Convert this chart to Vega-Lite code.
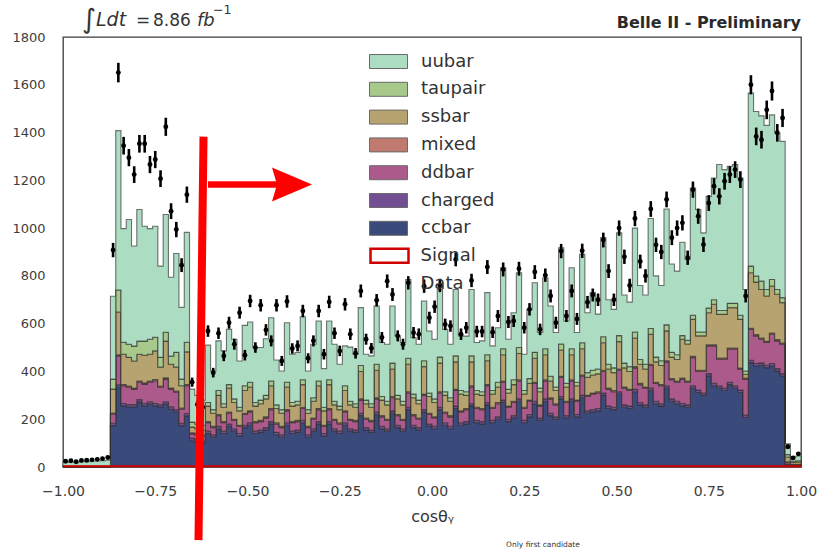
{
  "$schema": "https://vega.github.io/schema/vega-lite/v6.json",
  "width": 738,
  "height": 430,
  "autosize": {"type": "none"},
  "padding": {"left": 63, "top": 37, "right": 20, "bottom": 87},
  "background": "white",
  "config": {
    "font": "DejaVu Sans",
    "view": {"stroke": "#3a3a3a", "strokeWidth": 1.3},
    "axis": {"grid": false, "ticks": false, "domain": false, "labelColor": "#3d3d3d", "labelFont": "DejaVu Sans", "labelFlush": false, "labelOverlap": false}
  },
  "datasets": {
    "hist": [
      {"x":-1,"ccbar":0,"charged":0,"ddbar":0,"mixed":0,"ssbar":2,"taupair":2,"uubar":16,"signal":3},
      {"x":-0.9857,"ccbar":0,"charged":0,"ddbar":0,"mixed":0,"ssbar":2,"taupair":2,"uubar":18,"signal":3},
      {"x":-0.9714,"ccbar":0,"charged":0,"ddbar":0,"mixed":0,"ssbar":2,"taupair":2,"uubar":15,"signal":3},
      {"x":-0.9571,"ccbar":0,"charged":0,"ddbar":0,"mixed":0,"ssbar":2,"taupair":2,"uubar":19,"signal":3},
      {"x":-0.9429,"ccbar":0,"charged":0,"ddbar":0,"mixed":0,"ssbar":2,"taupair":2,"uubar":18,"signal":3},
      {"x":-0.9286,"ccbar":0,"charged":0,"ddbar":0,"mixed":0,"ssbar":2,"taupair":2,"uubar":20,"signal":3},
      {"x":-0.9143,"ccbar":0,"charged":0,"ddbar":0,"mixed":0,"ssbar":2,"taupair":2,"uubar":21,"signal":3},
      {"x":-0.9,"ccbar":0,"charged":0,"ddbar":0,"mixed":0,"ssbar":2,"taupair":2,"uubar":22,"signal":3},
      {"x":-0.8857,"ccbar":0,"charged":0,"ddbar":0,"mixed":0,"ssbar":2,"taupair":2,"uubar":24,"signal":3},
      {"x":-0.8714,"ccbar":173,"charged":10,"ddbar":38,"mixed":5,"ssbar":100,"taupair":42,"uubar":347,"signal":3},
      {"x":-0.8571,"ccbar":334,"charged":10,"ddbar":121,"mixed":5,"ssbar":179,"taupair":92,"uubar":667,"signal":3},
      {"x":-0.8429,"ccbar":256,"charged":10,"ddbar":74,"mixed":5,"ssbar":127,"taupair":50,"uubar":476,"signal":3},
      {"x":-0.8286,"ccbar":251,"charged":10,"ddbar":73,"mixed":5,"ssbar":120,"taupair":55,"uubar":522,"signal":3},
      {"x":-0.8143,"ccbar":251,"charged":10,"ddbar":65,"mixed":5,"ssbar":113,"taupair":62,"uubar":419,"signal":3},
      {"x":-0.8,"ccbar":272,"charged":10,"ddbar":73,"mixed":5,"ssbar":112,"taupair":55,"uubar":551,"signal":3},
      {"x":-0.7857,"ccbar":256,"charged":10,"ddbar":81,"mixed":5,"ssbar":116,"taupair":59,"uubar":481,"signal":3},
      {"x":-0.7714,"ccbar":263,"charged":10,"ddbar":82,"mixed":5,"ssbar":112,"taupair":63,"uubar":463,"signal":3},
      {"x":-0.7571,"ccbar":256,"charged":10,"ddbar":95,"mixed":5,"ssbar":120,"taupair":57,"uubar":465,"signal":3},
      {"x":-0.7429,"ccbar":251,"charged":10,"ddbar":73,"mixed":5,"ssbar":79,"taupair":41,"uubar":382,"signal":3},
      {"x":-0.7286,"ccbar":263,"charged":10,"ddbar":95,"mixed":5,"ssbar":154,"taupair":37,"uubar":493,"signal":3},
      {"x":-0.7143,"ccbar":242,"charged":10,"ddbar":74,"mixed":5,"ssbar":99,"taupair":34,"uubar":330,"signal":3},
      {"x":-0.7,"ccbar":229,"charged":10,"ddbar":74,"mixed":5,"ssbar":100,"taupair":62,"uubar":414,"signal":3},
      {"x":-0.6857,"ccbar":173,"charged":10,"ddbar":59,"mixed":5,"ssbar":93,"taupair":28,"uubar":300,"signal":3},
      {"x":-0.6714,"ccbar":214,"charged":10,"ddbar":116,"mixed":5,"ssbar":137,"taupair":40,"uubar":460,"signal":3},
      {"x":-0.6571,"ccbar":110,"charged":10,"ddbar":18,"mixed":5,"ssbar":24,"taupair":21,"uubar":138,"signal":3},
      {"x":-0.6429,"ccbar":105,"charged":10,"ddbar":20,"mixed":5,"ssbar":20,"taupair":20,"uubar":120,"signal":3},
      {"x":-0.6286,"ccbar":100,"charged":10,"ddbar":20,"mixed":5,"ssbar":20,"taupair":20,"uubar":105,"signal":3},
      {"x":-0.6143,"ccbar":140,"charged":10,"ddbar":35,"mixed":5,"ssbar":65,"taupair":15,"uubar":240,"signal":3},
      {"x":-0.6,"ccbar":125,"charged":10,"ddbar":30,"mixed":5,"ssbar":55,"taupair":15,"uubar":162,"signal":3},
      {"x":-0.5857,"ccbar":160,"charged":10,"ddbar":45,"mixed":5,"ssbar":80,"taupair":20,"uubar":208,"signal":3},
      {"x":-0.5714,"ccbar":140,"charged":10,"ddbar":35,"mixed":5,"ssbar":60,"taupair":15,"uubar":221,"signal":3},
      {"x":-0.5571,"ccbar":170,"charged":10,"ddbar":45,"mixed":5,"ssbar":100,"taupair":15,"uubar":231,"signal":3},
      {"x":-0.5429,"ccbar":150,"charged":10,"ddbar":35,"mixed":5,"ssbar":70,"taupair":15,"uubar":250,"signal":3},
      {"x":-0.5286,"ccbar":130,"charged":10,"ddbar":30,"mixed":5,"ssbar":60,"taupair":15,"uubar":194,"signal":3},
      {"x":-0.5143,"ccbar":165,"charged":10,"ddbar":45,"mixed":5,"ssbar":95,"taupair":20,"uubar":253,"signal":3},
      {"x":-0.5,"ccbar":175,"charged":10,"ddbar":45,"mixed":5,"ssbar":100,"taupair":20,"uubar":252,"signal":3},
      {"x":-0.4857,"ccbar":140,"charged":10,"ddbar":35,"mixed":5,"ssbar":65,"taupair":15,"uubar":230,"signal":3},
      {"x":-0.4714,"ccbar":145,"charged":10,"ddbar":35,"mixed":5,"ssbar":70,"taupair":15,"uubar":220,"signal":3},
      {"x":-0.4571,"ccbar":155,"charged":10,"ddbar":40,"mixed":5,"ssbar":75,"taupair":15,"uubar":237,"signal":3},
      {"x":-0.4429,"ccbar":180,"charged":10,"ddbar":50,"mixed":5,"ssbar":95,"taupair":20,"uubar":265,"signal":3},
      {"x":-0.4286,"ccbar":135,"charged":10,"ddbar":35,"mixed":5,"ssbar":60,"taupair":15,"uubar":188,"signal":3},
      {"x":-0.4143,"ccbar":125,"charged":10,"ddbar":30,"mixed":5,"ssbar":55,"taupair":15,"uubar":162,"signal":3},
      {"x":-0.4,"ccbar":175,"charged":10,"ddbar":50,"mixed":5,"ssbar":95,"taupair":20,"uubar":249,"signal":3},
      {"x":-0.3857,"ccbar":140,"charged":10,"ddbar":35,"mixed":5,"ssbar":65,"taupair":15,"uubar":202,"signal":3},
      {"x":-0.3714,"ccbar":145,"charged":10,"ddbar":35,"mixed":5,"ssbar":65,"taupair":15,"uubar":204,"signal":3},
      {"x":-0.3571,"ccbar":185,"charged":10,"ddbar":50,"mixed":5,"ssbar":95,"taupair":20,"uubar":264,"signal":3},
      {"x":-0.3429,"ccbar":125,"charged":10,"ddbar":30,"mixed":5,"ssbar":55,"taupair":15,"uubar":162,"signal":3},
      {"x":-0.3286,"ccbar":150,"charged":10,"ddbar":40,"mixed":5,"ssbar":70,"taupair":15,"uubar":224,"signal":3},
      {"x":-0.3143,"ccbar":180,"charged":10,"ddbar":50,"mixed":5,"ssbar":95,"taupair":20,"uubar":251,"signal":3},
      {"x":-0.3,"ccbar":130,"charged":10,"ddbar":30,"mixed":5,"ssbar":60,"taupair":15,"uubar":162,"signal":3},
      {"x":-0.2857,"ccbar":180,"charged":10,"ddbar":50,"mixed":5,"ssbar":100,"taupair":20,"uubar":246,"signal":3},
      {"x":-0.2714,"ccbar":150,"charged":10,"ddbar":35,"mixed":5,"ssbar":60,"taupair":15,"uubar":239,"signal":3},
      {"x":-0.2571,"ccbar":140,"charged":10,"ddbar":30,"mixed":5,"ssbar":55,"taupair":15,"uubar":175,"signal":3},
      {"x":-0.2429,"ccbar":175,"charged":10,"ddbar":45,"mixed":5,"ssbar":85,"taupair":20,"uubar":167,"signal":3},
      {"x":-0.2286,"ccbar":150,"charged":10,"ddbar":35,"mixed":5,"ssbar":60,"taupair":15,"uubar":227,"signal":3},
      {"x":-0.2143,"ccbar":145,"charged":10,"ddbar":35,"mixed":5,"ssbar":55,"taupair":15,"uubar":207,"signal":3},
      {"x":-0.2,"ccbar":215,"charged":10,"ddbar":55,"mixed":5,"ssbar":115,"taupair":25,"uubar":242,"signal":3},
      {"x":-0.1857,"ccbar":155,"charged":10,"ddbar":35,"mixed":5,"ssbar":60,"taupair":15,"uubar":192,"signal":3},
      {"x":-0.1714,"ccbar":145,"charged":10,"ddbar":35,"mixed":5,"ssbar":55,"taupair":15,"uubar":200,"signal":3},
      {"x":-0.1571,"ccbar":220,"charged":10,"ddbar":55,"mixed":5,"ssbar":115,"taupair":25,"uubar":244,"signal":3},
      {"x":-0.1429,"ccbar":160,"charged":10,"ddbar":40,"mixed":5,"ssbar":65,"taupair":15,"uubar":226,"signal":3},
      {"x":-0.1286,"ccbar":150,"charged":10,"ddbar":35,"mixed":5,"ssbar":60,"taupair":15,"uubar":239,"signal":3},
      {"x":-0.1143,"ccbar":225,"charged":10,"ddbar":55,"mixed":5,"ssbar":115,"taupair":25,"uubar":239,"signal":3},
      {"x":-0.1,"ccbar":165,"charged":10,"ddbar":40,"mixed":5,"ssbar":65,"taupair":15,"uubar":249,"signal":3},
      {"x":-0.0857,"ccbar":150,"charged":10,"ddbar":35,"mixed":5,"ssbar":60,"taupair":15,"uubar":246,"signal":3},
      {"x":-0.0714,"ccbar":240,"charged":10,"ddbar":60,"mixed":5,"ssbar":115,"taupair":25,"uubar":330,"signal":3},
      {"x":-0.0571,"ccbar":165,"charged":10,"ddbar":40,"mixed":5,"ssbar":70,"taupair":15,"uubar":237,"signal":3},
      {"x":-0.0429,"ccbar":155,"charged":10,"ddbar":35,"mixed":5,"ssbar":60,"taupair":15,"uubar":234,"signal":3},
      {"x":-0.0286,"ccbar":230,"charged":10,"ddbar":60,"mixed":5,"ssbar":115,"taupair":25,"uubar":250,"signal":3},
      {"x":-0.0143,"ccbar":170,"charged":10,"ddbar":40,"mixed":5,"ssbar":70,"taupair":15,"uubar":259,"signal":3},
      {"x":0,"ccbar":160,"charged":10,"ddbar":35,"mixed":5,"ssbar":60,"taupair":15,"uubar":250,"signal":3},
      {"x":0.0143,"ccbar":240,"charged":10,"ddbar":60,"mixed":5,"ssbar":120,"taupair":25,"uubar":283,"signal":3},
      {"x":0.0286,"ccbar":175,"charged":10,"ddbar":40,"mixed":5,"ssbar":70,"taupair":15,"uubar":261,"signal":3},
      {"x":0.0429,"ccbar":160,"charged":10,"ddbar":40,"mixed":5,"ssbar":60,"taupair":15,"uubar":224,"signal":3},
      {"x":0.0571,"ccbar":245,"charged":10,"ddbar":65,"mixed":5,"ssbar":115,"taupair":25,"uubar":278,"signal":3},
      {"x":0.0714,"ccbar":175,"charged":10,"ddbar":45,"mixed":5,"ssbar":70,"taupair":15,"uubar":229,"signal":3},
      {"x":0.0857,"ccbar":180,"charged":10,"ddbar":50,"mixed":5,"ssbar":55,"taupair":15,"uubar":233,"signal":3},
      {"x":0.1,"ccbar":255,"charged":10,"ddbar":70,"mixed":5,"ssbar":100,"taupair":25,"uubar":278,"signal":3},
      {"x":0.1143,"ccbar":185,"charged":10,"ddbar":50,"mixed":5,"ssbar":55,"taupair":15,"uubar":201,"signal":3},
      {"x":0.1286,"ccbar":180,"charged":10,"ddbar":50,"mixed":5,"ssbar":55,"taupair":15,"uubar":213,"signal":3},
      {"x":0.1429,"ccbar":260,"charged":10,"ddbar":70,"mixed":5,"ssbar":100,"taupair":25,"uubar":260,"signal":3},
      {"x":0.1571,"ccbar":185,"charged":10,"ddbar":50,"mixed":5,"ssbar":55,"taupair":15,"uubar":187,"signal":3},
      {"x":0.1714,"ccbar":200,"charged":10,"ddbar":55,"mixed":5,"ssbar":65,"taupair":20,"uubar":228,"signal":3},
      {"x":0.1857,"ccbar":270,"charged":10,"ddbar":75,"mixed":5,"ssbar":110,"taupair":25,"uubar":339,"signal":3},
      {"x":0.2,"ccbar":190,"charged":10,"ddbar":50,"mixed":5,"ssbar":55,"taupair":15,"uubar":210,"signal":3},
      {"x":0.2143,"ccbar":205,"charged":10,"ddbar":55,"mixed":5,"ssbar":70,"taupair":20,"uubar":281,"signal":3},
      {"x":0.2286,"ccbar":275,"charged":10,"ddbar":75,"mixed":5,"ssbar":110,"taupair":25,"uubar":313,"signal":3},
      {"x":0.2429,"ccbar":185,"charged":10,"ddbar":50,"mixed":5,"ssbar":55,"taupair":15,"uubar":152,"signal":3},
      {"x":0.2571,"ccbar":210,"charged":10,"ddbar":55,"mixed":5,"ssbar":70,"taupair":20,"uubar":290,"signal":3},
      {"x":0.2714,"ccbar":265,"charged":10,"ddbar":75,"mixed":5,"ssbar":100,"taupair":25,"uubar":291,"signal":3},
      {"x":0.2857,"ccbar":195,"charged":10,"ddbar":50,"mixed":5,"ssbar":55,"taupair":15,"uubar":233,"signal":3},
      {"x":0.3,"ccbar":275,"charged":10,"ddbar":75,"mixed":5,"ssbar":105,"taupair":25,"uubar":297,"signal":3},
      {"x":0.3143,"ccbar":215,"charged":10,"ddbar":60,"mixed":5,"ssbar":70,"taupair":20,"uubar":294,"signal":3},
      {"x":0.3286,"ccbar":200,"charged":10,"ddbar":50,"mixed":5,"ssbar":55,"taupair":15,"uubar":228,"signal":3},
      {"x":0.3429,"ccbar":285,"charged":10,"ddbar":80,"mixed":5,"ssbar":110,"taupair":25,"uubar":403,"signal":3},
      {"x":0.3571,"ccbar":205,"charged":10,"ddbar":55,"mixed":5,"ssbar":60,"taupair":15,"uubar":261,"signal":3},
      {"x":0.3714,"ccbar":275,"charged":10,"ddbar":75,"mixed":5,"ssbar":105,"taupair":25,"uubar":339,"signal":3},
      {"x":0.3857,"ccbar":210,"charged":10,"ddbar":55,"mixed":5,"ssbar":60,"taupair":15,"uubar":208,"signal":3},
      {"x":0.4,"ccbar":290,"charged":10,"ddbar":80,"mixed":5,"ssbar":110,"taupair":25,"uubar":370,"signal":3},
      {"x":0.4143,"ccbar":225,"charged":10,"ddbar":60,"mixed":5,"ssbar":75,"taupair":20,"uubar":251,"signal":3},
      {"x":0.4286,"ccbar":230,"charged":10,"ddbar":65,"mixed":5,"ssbar":75,"taupair":20,"uubar":325,"signal":3},
      {"x":0.4429,"ccbar":235,"charged":10,"ddbar":65,"mixed":5,"ssbar":75,"taupair":20,"uubar":230,"signal":3},
      {"x":0.4571,"ccbar":300,"charged":10,"ddbar":90,"mixed":5,"ssbar":115,"taupair":25,"uubar":415,"signal":3},
      {"x":0.4714,"ccbar":245,"charged":10,"ddbar":70,"mixed":5,"ssbar":80,"taupair":20,"uubar":270,"signal":3},
      {"x":0.4857,"ccbar":240,"charged":10,"ddbar":65,"mixed":5,"ssbar":75,"taupair":20,"uubar":245,"signal":3},
      {"x":0.5,"ccbar":305,"charged":10,"ddbar":90,"mixed":5,"ssbar":115,"taupair":25,"uubar":430,"signal":3},
      {"x":0.5143,"ccbar":250,"charged":10,"ddbar":70,"mixed":5,"ssbar":80,"taupair":20,"uubar":285,"signal":3},
      {"x":0.5286,"ccbar":245,"charged":10,"ddbar":65,"mixed":5,"ssbar":75,"taupair":20,"uubar":270,"signal":3},
      {"x":0.5429,"ccbar":315,"charged":10,"ddbar":90,"mixed":5,"ssbar":120,"taupair":25,"uubar":435,"signal":3},
      {"x":0.5571,"ccbar":260,"charged":10,"ddbar":75,"mixed":5,"ssbar":80,"taupair":20,"uubar":310,"signal":3},
      {"x":0.5714,"ccbar":250,"charged":10,"ddbar":70,"mixed":5,"ssbar":75,"taupair":20,"uubar":290,"signal":3},
      {"x":0.5857,"ccbar":320,"charged":10,"ddbar":95,"mixed":5,"ssbar":125,"taupair":25,"uubar":460,"signal":3},
      {"x":0.6,"ccbar":265,"charged":10,"ddbar":75,"mixed":5,"ssbar":85,"taupair":20,"uubar":340,"signal":3},
      {"x":0.6143,"ccbar":255,"charged":10,"ddbar":75,"mixed":5,"ssbar":80,"taupair":20,"uubar":315,"signal":3},
      {"x":0.6286,"ccbar":330,"charged":10,"ddbar":100,"mixed":5,"ssbar":125,"taupair":25,"uubar":485,"signal":3},
      {"x":0.6429,"ccbar":275,"charged":10,"ddbar":80,"mixed":5,"ssbar":90,"taupair":20,"uubar":370,"signal":3},
      {"x":0.6571,"ccbar":265,"charged":10,"ddbar":80,"mixed":5,"ssbar":90,"taupair":20,"uubar":350,"signal":3},
      {"x":0.6714,"ccbar":256,"charged":10,"ddbar":101,"mixed":5,"ssbar":163,"taupair":15,"uubar":391,"signal":3},
      {"x":0.6857,"ccbar":250,"charged":10,"ddbar":95,"mixed":5,"ssbar":155,"taupair":15,"uubar":339,"signal":3},
      {"x":0.7,"ccbar":330,"charged":10,"ddbar":118,"mixed":5,"ssbar":155,"taupair":17,"uubar":533,"signal":3},
      {"x":0.7143,"ccbar":312,"charged":10,"ddbar":78,"mixed":5,"ssbar":144,"taupair":16,"uubar":513,"signal":3},
      {"x":0.7286,"ccbar":300,"charged":10,"ddbar":90,"mixed":5,"ssbar":144,"taupair":16,"uubar":415,"signal":3},
      {"x":0.7429,"ccbar":381,"charged":10,"ddbar":116,"mixed":5,"ssbar":134,"taupair":19,"uubar":468,"signal":3},
      {"x":0.7571,"ccbar":340,"charged":10,"ddbar":157,"mixed":5,"ssbar":169,"taupair":19,"uubar":510,"signal":3},
      {"x":0.7714,"ccbar":330,"charged":10,"ddbar":111,"mixed":5,"ssbar":183,"taupair":16,"uubar":611,"signal":3},
      {"x":0.7857,"ccbar":320,"charged":10,"ddbar":121,"mixed":5,"ssbar":183,"taupair":16,"uubar":590,"signal":3},
      {"x":0.8,"ccbar":345,"charged":10,"ddbar":138,"mixed":5,"ssbar":169,"taupair":18,"uubar":574,"signal":3},
      {"x":0.8143,"ccbar":330,"charged":10,"ddbar":153,"mixed":5,"ssbar":169,"taupair":18,"uubar":581,"signal":3},
      {"x":0.8286,"ccbar":312,"charged":10,"ddbar":87,"mixed":5,"ssbar":204,"taupair":17,"uubar":575,"signal":3},
      {"x":0.8429,"ccbar":207,"charged":10,"ddbar":150,"mixed":5,"ssbar":16,"taupair":14,"uubar":341,"signal":3},
      {"x":0.8571,"ccbar":437,"charged":10,"ddbar":129,"mixed":5,"ssbar":232,"taupair":28,"uubar":724,"signal":3},
      {"x":0.8714,"ccbar":423,"charged":10,"ddbar":116,"mixed":5,"ssbar":220,"taupair":25,"uubar":689,"signal":3},
      {"x":0.8857,"ccbar":426,"charged":10,"ddbar":99,"mixed":5,"ssbar":203,"taupair":35,"uubar":692,"signal":3},
      {"x":0.9,"ccbar":416,"charged":10,"ddbar":95,"mixed":5,"ssbar":190,"taupair":27,"uubar":687,"signal":3},
      {"x":0.9143,"ccbar":423,"charged":10,"ddbar":123,"mixed":5,"ssbar":196,"taupair":28,"uubar":689,"signal":3},
      {"x":0.9286,"ccbar":402,"charged":10,"ddbar":116,"mixed":5,"ssbar":190,"taupair":20,"uubar":655,"signal":3},
      {"x":0.9429,"ccbar":381,"charged":10,"ddbar":123,"mixed":5,"ssbar":169,"taupair":21,"uubar":654,"signal":3},
      {"x":0.9571,"ccbar":10,"charged":2,"ddbar":8,"mixed":2,"ssbar":20,"taupair":10,"uubar":45,"signal":3},
      {"x":0.9714,"ccbar":5,"charged":1,"ddbar":4,"mixed":1,"ssbar":8,"taupair":5,"uubar":16,"signal":3},
      {"x":0.9857,"ccbar":5,"charged":1,"ddbar":4,"mixed":1,"ssbar":10,"taupair":5,"uubar":20,"signal":3},
      {"x":1,"ccbar":5,"charged":1,"ddbar":4,"mixed":1,"ssbar":10,"taupair":5,"uubar":20,"signal":3}
    ],
    "pts": [
      {"x":-0.9929,"n":24,"e":5},{"x":-0.9786,"n":26,"e":5},{"x":-0.9643,"n":22,"e":5},{"x":-0.95,"n":27,"e":5},
      {"x":-0.9357,"n":28,"e":5},{"x":-0.9214,"n":30,"e":5},{"x":-0.9071,"n":32,"e":6},{"x":-0.8929,"n":35,"e":6},
      {"x":-0.8786,"n":40,"e":6},{"x":-0.8643,"n":908,"e":30},{"x":-0.85,"n":1651,"e":41},{"x":-0.8357,"n":1345,"e":37},
      {"x":-0.8214,"n":1295,"e":36},{"x":-0.8071,"n":1224,"e":35},{"x":-0.7929,"n":1353,"e":37},{"x":-0.7786,"n":1353,"e":37},
      {"x":-0.7643,"n":1266,"e":36},{"x":-0.75,"n":1287,"e":36},{"x":-0.7357,"n":1207,"e":35},{"x":-0.7214,"n":1424,"e":38},
      {"x":-0.7071,"n":1071,"e":33},{"x":-0.6929,"n":994,"e":32},{"x":-0.6786,"n":845,"e":29},{"x":-0.6643,"n":1140,"e":34},
      {"x":-0.65,"n":355,"e":19},{"x":-0.6357,"n":262,"e":16},{"x":-0.6214,"n":250,"e":16},{"x":-0.6071,"n":569,"e":24},
      {"x":-0.5929,"n":395,"e":20},{"x":-0.5786,"n":560,"e":24},{"x":-0.5643,"n":465,"e":22},{"x":-0.55,"n":604,"e":25},
      {"x":-0.5357,"n":514,"e":23},{"x":-0.5214,"n":646,"e":25},{"x":-0.5071,"n":468,"e":22},{"x":-0.4929,"n":695,"e":26},
      {"x":-0.4786,"n":500,"e":22},{"x":-0.4643,"n":677,"e":26},{"x":-0.45,"n":574,"e":24},{"x":-0.4357,"n":528,"e":23},
      {"x":-0.4214,"n":677,"e":26},{"x":-0.4071,"n":444,"e":21},{"x":-0.3929,"n":693,"e":26},{"x":-0.3786,"n":496,"e":22},
      {"x":-0.3643,"n":507,"e":23},{"x":-0.35,"n":653,"e":26},{"x":-0.3357,"n":455,"e":21},{"x":-0.3214,"n":528,"e":23},
      {"x":-0.3071,"n":653,"e":26},{"x":-0.2929,"n":472,"e":22},{"x":-0.2786,"n":691,"e":26},{"x":-0.2643,"n":560,"e":24},
      {"x":-0.25,"n":486,"e":22},{"x":-0.2357,"n":681,"e":26},{"x":-0.2214,"n":556,"e":24},{"x":-0.2071,"n":476,"e":22},
      {"x":-0.1929,"n":737,"e":27},{"x":-0.1786,"n":535,"e":23},{"x":-0.1643,"n":497,"e":22},{"x":-0.15,"n":698,"e":26},
      {"x":-0.1357,"n":542,"e":23},{"x":-0.1214,"n":778,"e":28},{"x":-0.1071,"n":722,"e":27},{"x":-0.0929,"n":549,"e":23},
      {"x":-0.0786,"n":514,"e":23},{"x":-0.0643,"n":771,"e":28},{"x":-0.05,"n":562,"e":24},{"x":-0.0357,"n":556,"e":24},
      {"x":-0.0214,"n":757,"e":28},{"x":-0.0071,"n":625,"e":25},{"x":0.0071,"n":671,"e":26},{"x":0.0214,"n":760,"e":28},
      {"x":0.0357,"n":597,"e":24},{"x":0.05,"n":590,"e":24},{"x":0.0643,"n":869,"e":29},{"x":0.0786,"n":556,"e":24},
      {"x":0.0929,"n":583,"e":24},{"x":0.1071,"n":781,"e":28},{"x":0.1214,"n":567,"e":24},{"x":0.1357,"n":567,"e":24},
      {"x":0.15,"n":837,"e":29},{"x":0.1643,"n":564,"e":24},{"x":0.1786,"n":632,"e":25},{"x":0.1929,"n":827,"e":29},
      {"x":0.2071,"n":607,"e":25},{"x":0.2214,"n":611,"e":25},{"x":0.2357,"n":830,"e":29},{"x":0.25,"n":583,"e":24},
      {"x":0.2643,"n":660,"e":26},{"x":0.2786,"n":816,"e":29},{"x":0.2929,"n":576,"e":24},{"x":0.3071,"n":803,"e":28},
      {"x":0.3214,"n":716,"e":27},{"x":0.3357,"n":604,"e":25},{"x":0.35,"n":904,"e":30},{"x":0.3643,"n":632,"e":25},
      {"x":0.3786,"n":737,"e":27},{"x":0.3929,"n":620,"e":25},{"x":0.4071,"n":905,"e":30},{"x":0.4214,"n":690,"e":26},
      {"x":0.4357,"n":720,"e":27},{"x":0.45,"n":700,"e":26},{"x":0.4643,"n":950,"e":31},{"x":0.4786,"n":820,"e":29},
      {"x":0.4929,"n":700,"e":26},{"x":0.5071,"n":1000,"e":32},{"x":0.5214,"n":880,"e":30},{"x":0.5357,"n":760,"e":28},
      {"x":0.55,"n":1040,"e":32},{"x":0.5643,"n":860,"e":29},{"x":0.5786,"n":800,"e":28},{"x":0.5929,"n":1080,"e":33},
      {"x":0.6071,"n":930,"e":30},{"x":0.6214,"n":900,"e":30},{"x":0.6357,"n":1120,"e":33},{"x":0.65,"n":960,"e":31},
      {"x":0.6643,"n":1000,"e":32},{"x":0.6786,"n":1022,"e":32},{"x":0.6929,"n":876,"e":30},{"x":0.7071,"n":1161,"e":34},
      {"x":0.7214,"n":1050,"e":32},{"x":0.7357,"n":931,"e":31},{"x":0.75,"n":1105,"e":33},{"x":0.7643,"n":1175,"e":34},
      {"x":0.7786,"n":1133,"e":34},{"x":0.7929,"n":1196,"e":35},{"x":0.8071,"n":1224,"e":35},{"x":0.8214,"n":1245,"e":35},
      {"x":0.8357,"n":1203,"e":35},{"x":0.85,"n":716,"e":27},{"x":0.8643,"n":1600,"e":40},{"x":0.8786,"n":1384,"e":37},
      {"x":0.8929,"n":1370,"e":37},{"x":0.9071,"n":1495,"e":39},{"x":0.9214,"n":1574,"e":40},{"x":0.9357,"n":1399,"e":37},
      {"x":0.95,"n":1461,"e":38},{"x":0.9643,"n":85,"e":9},{"x":0.9786,"n":38,"e":6},{"x":0.9929,"n":55,"e":7}
    ]
  },
  "layer": [
    {
      "data": {"name": "hist"},
      "transform": [
        {"fold": ["ccbar", "charged", "ddbar", "mixed", "ssbar", "taupair", "uubar"], "as": ["sample", "n"]},
        {"stack": "n", "groupby": ["x"], "sort": [{"field": "sample", "order": "ascending"}], "as": ["lo", "hi"]}
      ],
      "mark": {"type": "area", "interpolate": "step-after", "stroke": "#2e2e2e", "strokeWidth": 1.1, "strokeOpacity": 0.65, "fillOpacity": 1},
      "encoding": {
        "x": {"field": "x", "type": "quantitative", "scale": {"domain": [-1, 1], "nice": false, "zero": false},
          "axis": {"values": [-1, -0.75, -0.5, -0.25, 0, 0.25, 0.5, 0.75, 1], "format": ".2f", "labelFontSize": 14, "labelPadding": 17,
            "title": "cosθᵧ", "titleFontSize": 16, "titleFontWeight": "normal", "titleColor": "#333333", "titlePadding": 10}},
        "y": {"field": "hi", "type": "quantitative", "scale": {"domain": [0, 1800], "nice": false},
          "axis": {"values": [0, 200, 400, 600, 800, 1000, 1200, 1400, 1600, 1800], "format": "d", "labelFontSize": 13, "labelPadding": 18, "title": null}},
        "y2": {"field": "lo"},
        "fill": {"field": "sample", "type": "nominal",
          "scale": {"domain": ["uubar", "taupair", "ssbar", "mixed", "ddbar", "charged", "ccbar"],
            "range": ["#acdcc1", "#a8c98c", "#b7a36f", "#c07a70", "#ab5a8b", "#714f92", "#3a4a7a"]},
          "legend": {"orient": "none", "legendX": 315, "legendY": 14, "title": null,
            "symbolType": "M-1.9,-0.7H1.9V0.7H-1.9Z", "symbolSize": 400, "symbolStrokeWidth": 1, "symbolStrokeColor": "#6a6a6a",
            "labelFontSize": 18, "labelColor": "#333333", "labelFont": "DejaVu Sans", "labelOffset": 22, "rowPadding": 7.8}
        }
      }
    },
    {
      "data": {"name": "hist"},
      "mark": {"type": "line", "interpolate": "step-after", "strokeWidth": 2},
      "encoding": {
        "x": {"field": "x", "type": "quantitative"},
        "y": {"field": "signal", "type": "quantitative"},
        "stroke": {"datum": "Signal", "type": "nominal",
          "scale": {"domain": ["Signal", "Data"], "range": ["#d00000", "rgba(0,0,0,0)"]},
          "legend": {"orient": "none", "legendX": 315, "legendY": 207.2, "title": null,
            "symbolType": "M-1.9,-0.7H1.9V0.7H-1.9Z", "symbolSize": 400, "symbolStrokeWidth": 2.5, "symbolFillColor": "transparent",
            "labelFontSize": 18, "labelColor": "#333333", "labelFont": "DejaVu Sans", "labelOffset": 19.5, "rowPadding": 3.6}}
      }
    },
    {
      "data": {"name": "pts"},
      "mark": {"type": "errorbar", "ticks": false, "thickness": 2.6, "color": "black"},
      "encoding": {
        "x": {"field": "x", "type": "quantitative"},
        "y": {"field": "n", "type": "quantitative"},
        "yError": {"field": "e"}
      }
    },
    {
      "data": {"name": "pts"},
      "mark": {"type": "point", "filled": true, "size": 24, "color": "black", "opacity": 1},
      "encoding": {
        "x": {"field": "x", "type": "quantitative"},
        "y": {"field": "n", "type": "quantitative"}
      }
    },
    {
      "data": {"values": [{}]},
      "layer": [
        {"mark": {"type": "rule", "color": "#ff0000", "strokeWidth": 8, "clip": false},
          "encoding": {"x": {"datum": -0.6192}, "y": {"datum": 1383}, "x2": {"datum": -0.6328}, "y2": {"datum": -306}}},
        {"mark": {"type": "rule", "color": "#ff0000", "strokeWidth": 6.5, "clip": false},
          "encoding": {"x": {"datum": -0.607}, "y": {"datum": 1183}, "x2": {"datum": -0.41}, "y2": {"datum": 1183}}},
        {"mark": {"type": "point", "shape": "M1,0L-1,-0.85L-0.75,0L-1,0.85Z", "size": 1600, "filled": true, "color": "#ff0000", "opacity": 1, "clip": false},
          "encoding": {"x": {"datum": -0.3794}, "y": {"datum": 1183}}},
        {"mark": {"type": "text", "text": "∫", "font": "DejaVu Sans", "fontSize": 27, "align": "left", "baseline": "alphabetic", "color": "#333333", "clip": false},
          "encoding": {"x": {"datum": -0.9485}, "y": {"datum": 1838}}},
        {"mark": {"type": "text", "text": "Ldt", "font": "DejaVu Sans", "fontStyle": "italic", "fontSize": 19, "align": "left", "baseline": "alphabetic", "color": "#333333", "clip": false},
          "encoding": {"x": {"datum": -0.9106}, "y": {"datum": 1846}}},
        {"mark": {"type": "text", "text": "=", "font": "DejaVu Sans", "fontSize": 17, "align": "left", "baseline": "alphabetic", "color": "#333333", "clip": false},
          "encoding": {"x": {"datum": -0.8022}, "y": {"datum": 1846}}},
        {"mark": {"type": "text", "text": "8.86", "font": "DejaVu Sans", "fontSize": 17, "align": "left", "baseline": "alphabetic", "color": "#333333", "clip": false},
          "encoding": {"x": {"datum": -0.7561}, "y": {"datum": 1846}}},
        {"mark": {"type": "text", "text": "fb", "font": "DejaVu Sans", "fontStyle": "italic", "fontSize": 18, "align": "left", "baseline": "alphabetic", "color": "#333333", "clip": false},
          "encoding": {"x": {"datum": -0.6369}, "y": {"datum": 1846}}},
        {"mark": {"type": "text", "text": "−1", "font": "DejaVu Sans", "fontSize": 12.5, "align": "left", "baseline": "alphabetic", "color": "#333333", "clip": false},
          "encoding": {"x": {"datum": -0.5935}, "y": {"datum": 1898}}},
        {"mark": {"type": "text", "text": "Belle II - Preliminary", "font": "DejaVu Sans", "fontWeight": "bold", "fontSize": 16, "align": "right", "baseline": "alphabetic", "color": "#2a2a2a", "clip": false},
          "encoding": {"x": {"datum": 1}, "y": {"datum": 1838}}},
        {"mark": {"type": "text", "text": "Only first candidate", "font": "DejaVu Sans", "fontSize": 7.5, "align": "center", "baseline": "middle", "color": "#333333", "clip": false},
          "encoding": {"x": {"datum": 0.3008}, "y": {"datum": -327}}}
      ]
    }
  ]
}
